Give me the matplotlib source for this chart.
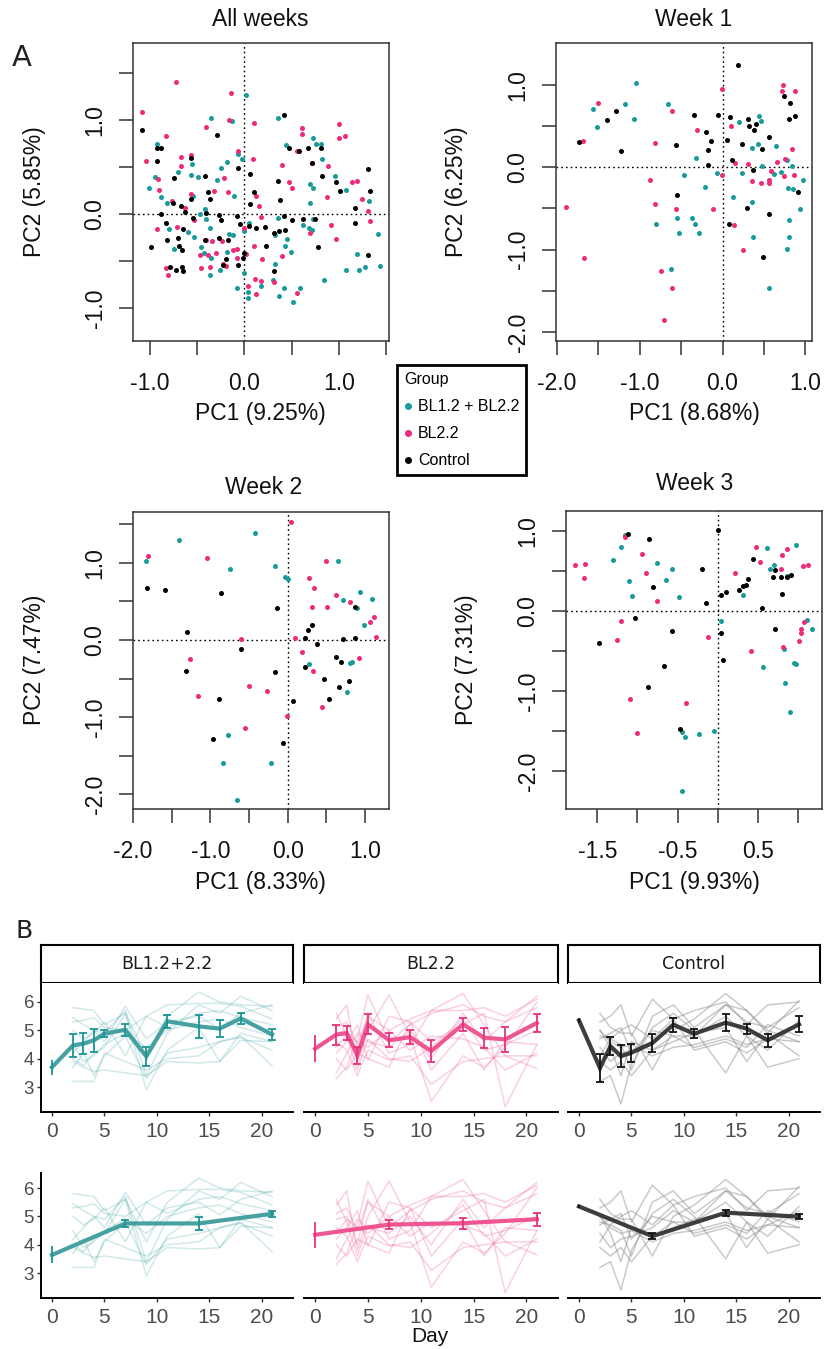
import matplotlib
matplotlib.use('Agg')
import matplotlib.pyplot as plt

plt.rcParams['font.family'] = ['Liberation Sans', 'DejaVu Sans']

# =====================================================================
# Data: PCA scores (panel A)
# =====================================================================
group_names = ['BL1.2 + BL2.2', 'BL2.2', 'Control']
dot_colors = ['#1A9B9B', '#EE2A7B', '#000000']

# All weeks
aw_teal_x = [0.02, -0.35, -0.13, 0.35, -0.93, 0.44, 0.73, 0.76, 0.81, 0.82, -0.07, -0.03, -0.56, -0.57,
             -0.49, -0.70, -0.25, -0.18, -0.29, -0.95, -1.01, 0.69, 0.73, 0.96, 1.08, -0.55, -0.11, 0.69,
             1.32, -0.88, -0.82, -0.42, -0.41, -0.47, 0.35, 0.62, 0.68, 0.71, 1.41, 0.73, -0.80, -0.60,
             -0.53, -0.37, -0.01, 0.05, -0.75, -0.46, -0.43, -0.35, -0.18, -0.12, 0.32, 0.45, 0.43, 0.49,
             0.32, 0.00, -0.26, -0.36, 0.30, 0.18, -0.08, 0.42, 0.59, 0.37, 0.51, 0.04, 0.04, 0.84, 1.08,
             1.21, 1.28, 1.43, 1.19, -0.16]
aw_teal_y = [1.27, 1.02, 0.99, 1.02, 0.75, 0.74, 0.81, 0.75, 0.75, 0.59, 0.64, 0.59, 0.53, 0.42,
             0.39, 0.45, 0.49, 0.55, 0.36, 0.39, 0.28, 0.32, 0.28, 0.41, 0.26, 0.19, 0.19, 0.12,
             0.14, 0.18, 0.12, 0.05, -0.05, 0.00, -0.04, -0.12, -0.15, -0.17, -0.21, -0.05, -0.16, -0.19,
             -0.24, -0.15, -0.18, -0.09, -0.37, -0.35, -0.41, -0.47, -0.40, -0.22, -0.22, -0.27, -0.34, -0.40,
             -0.53, -0.63, -0.60, -0.65, -0.70, -0.77, -0.79, -0.79, -0.79, -0.87, -0.94, -0.89, -0.83, -0.70, -0.59,
             -0.60, -0.56, -0.55, -0.42, -0.21]
aw_pink_x = [-0.73, -0.14, -1.08, -0.16, 0.10, -0.41, -0.83, 1.00, 1.00, 1.06, 0.61, 0.61, 0.56, -0.07,
             -1.04, -0.67, -0.57, -0.67, 0.09, 0.40, 0.71, 0.88, -0.92, -0.22, 0.47, 0.50, 1.14, 1.19,
             -0.90, -0.57, -0.32, -0.17, 0.12, 0.87, 1.24, -0.77, 0.15, -0.63, -0.53, 1.31, 0.17, 1.33,
             0.92, -0.93, -0.71, -0.01, 0.69, -0.41, -0.34, -0.24, 0.97, 0.10, -0.12, -0.08, -0.47, -0.39,
             -0.30, 0.02, 0.40, -0.08, 0.19, -0.83, -0.46, -0.36, -0.20, -0.81, -0.23, 0.11, 0.17, 0.31,
             0.04, 0.12, 0.56]
aw_pink_y = [1.40, 1.29, 1.09, 1.00, 0.97, 0.93, 0.83, 0.96, 0.81, 0.83, 0.92, 0.85, 0.67, 0.67,
             0.57, 0.61, 0.63, 0.51, 0.59, 0.52, 0.54, 0.51, 0.37, 0.38, 0.34, 0.28, 0.34, 0.35,
             0.26, 0.21, 0.25, 0.24, 0.19, 0.18, 0.16, 0.14, 0.09, 0.06, -0.06, 0.03, -0.03, -0.07,
             -0.12, -0.16, -0.14, -0.15, -0.20, -0.28, -0.29, -0.29, -0.27, -0.34, -0.38, -0.37, -0.44, -0.44,
             -0.41, -0.42, -0.45, -0.47, -0.48, -0.57, -0.57, -0.56, -0.55, -0.65, -0.53, -0.69, -0.71, -0.72,
             -0.77, -0.85, -0.84]
aw_ctrl_x = [-1.08, -0.29, 0.42, -0.07, 0.06, 0.47, 0.58, 0.67, 0.71, 0.81, 0.82, 0.97, 1.01, 1.31,
             1.33, -0.93, -0.88, -0.93, -0.57, -0.75, -0.42, -0.39, -0.36, -0.57, -0.67, -0.76, -0.88, -0.63,
             -0.55, -0.41, -0.27, -0.25, -0.08, -0.05, 0.05, 0.12, 0.22, 0.10, 0.06, 0.35, 0.38, 0.42,
             0.50, 0.62, 0.75, 1.17, 1.17, -0.83, -0.65, -0.70, -0.82, -0.99, -0.69, -0.66, -0.42, -0.27,
             -0.17, -0.20, -0.23, -0.07, 0.00, -0.02, 0.23, 0.31, 0.37, 0.43, 0.31, 0.78, 1.31, -0.79,
             -0.73, -0.66, -0.65]
aw_ctrl_y = [0.89, 0.84, 1.05, 0.49, 0.43, 0.70, 0.67, 0.70, 0.54, 0.70, 0.40, 0.34, 0.25, 0.48,
             0.25, 0.70, 0.70, 0.57, 0.60, 0.38, 0.41, 0.24, 0.16, 0.16, 0.09, 0.12, 0.00, 0.02,
             -0.04, 0.01, -0.01, -0.06, -0.02, -0.11, -0.13, -0.15, -0.14, 0.24, 0.11, 0.35, 0.15, -0.02,
             -0.06, -0.05, -0.05, 0.06, -0.10, -0.10, -0.16, -0.25, -0.28, -0.35, -0.34, -0.38, -0.28, -0.25,
             -0.28, -0.48, -0.54, -0.54, -0.41, -0.47, -0.34, -0.20, -0.18, -0.17, -0.61, -0.35, -0.44, -0.56,
             -0.59, -0.56, -0.61]

# Week 1
w1_teal_x = [-1.04, -1.56, -1.18, -0.66, -1.07, -1.51, 0.20, 0.44, 0.47, 0.35, 0.43, 0.64, -0.32, 0.78,
             0.48, 0.84, -0.07, -0.47, 0.24, 0.62, 0.70, 0.97, -0.21, 0.79, 0.85, 0.13, 0.35, 0.93,
             -0.55, -0.37, -0.80, -0.33, -0.53, -0.28, 0.80, 0.37, 0.80, 0.78, -0.62, 0.56]
w1_teal_y = [1.03, 0.71, 0.77, 0.77, 0.59, 0.49, 0.55, 0.62, 0.56, 0.24, 0.28, 0.26, 0.11, 0.09,
             0.02, 0.01, -0.07, -0.09, -0.07, -0.08, -0.06, -0.15, -0.24, -0.25, -0.26, -0.36, -0.42, -0.51,
             -0.62, -0.61, -0.69, -0.69, -0.80, -0.80, -0.64, -0.85, -0.85, -0.99, -1.23, -1.47]
w1_pink_x = [0.73, 0.72, 0.88, -0.01, -1.50, -0.61, -1.68, 0.10, -0.31, -0.81, 0.84, 0.76, 0.15, 0.31,
             0.66, -0.01, 0.59, 0.74, 0.86, 0.35, 0.47, 0.56, 0.56, -0.88, -0.82, -0.56, -0.12, -1.89,
             0.14, 0.25, -1.67, -0.74, -0.61, -0.71]
w1_pink_y = [1.00, 0.93, 0.93, 0.95, 0.78, 0.69, 0.32, 0.50, 0.45, 0.30, 0.22, 0.10, 0.05, 0.04,
             0.06, -0.09, -0.05, -0.11, -0.09, -0.17, -0.19, -0.19, -0.16, -0.16, -0.45, -0.51, -0.51, -0.48,
             -0.70, -1.00, -1.10, -1.26, -1.47, -1.86]
w1_ctrl_x = [0.19, 0.74, 0.82, 0.80, 0.87, -1.28, -1.40, -1.73, -1.22, -0.34, -0.06, 0.09, 0.31, 0.41,
             0.32, 0.38, -0.20, -0.14, 0.06, 0.23, 0.56, 0.48, -0.56, -0.17, -0.17, 0.11, 0.37, 0.91,
             -0.55, 0.29, 0.56, 0.08, 0.49]
w1_ctrl_y = [1.24, 0.87, 0.78, 0.59, 0.62, 0.68, 0.57, 0.31, 0.20, 0.63, 0.63, 0.61, 0.59, 0.53,
             0.50, 0.45, 0.43, 0.32, 0.33, 0.28, 0.37, 0.22, 0.27, 0.21, 0.03, 0.09, -0.03, -0.30,
             -0.34, -0.50, -0.57, -0.69, -1.09]

# Week 2
w2_teal_x = [-0.42, -1.41, -1.83, 0.65, -0.74, -0.17, -0.03, 0.00, 0.94, 1.09, 0.71, 0.90, 0.99, 0.28,
             0.80, 0.83, 0.77, -0.77, -0.84, -0.21, -0.66]
w2_teal_y = [1.39, 1.30, 1.03, 1.02, 0.92, 0.96, 0.82, 0.79, 0.62, 0.53, 0.52, 0.42, 0.19, -0.31,
             -0.30, -0.28, -0.67, -1.23, -1.60, -1.60, -2.07]
w2_pink_x = [0.04, -1.80, -1.04, 0.50, 0.27, 0.34, 0.63, 0.80, 0.32, 0.51, 1.12, 1.06, 1.14, 0.10,
             -0.61, 0.18, 0.92, -1.26, 0.33, -0.50, -0.27, -1.16, 0.44, -0.01, -0.55]
w2_pink_y = [1.53, 1.09, 1.06, 1.03, 0.81, 0.67, 0.58, 0.49, 0.43, 0.43, 0.30, 0.23, 0.04, 0.03,
             0.01, -0.15, -0.23, -0.25, -0.40, -0.59, -0.66, -0.73, -0.87, -0.98, -1.14]
w2_ctrl_x = [-1.82, -1.59, -0.86, -0.14, 0.87, 0.31, 0.26, 0.23, 0.72, 0.87, 0.38, -1.30, -0.61, 0.62,
             0.69, 0.23, -1.32, -0.17, 0.47, 0.79, 0.66, 0.53, -0.89, 0.07, -0.97, -0.06]
w2_ctrl_y = [0.67, 0.65, 0.61, 0.41, 0.43, 0.20, 0.13, 0.03, 0.01, 0.03, -0.05, 0.11, -0.12, -0.22,
             -0.28, -0.35, -0.40, -0.41, -0.50, -0.53, -0.61, -0.77, -0.77, -0.79, -1.28, -1.33]

# Week 3
w3_teal_x = [-1.15, -1.20, -1.31, -0.75, -0.57, -0.64, -1.10, -1.07, -0.48, 0.61, 0.98, 0.70, 0.65, 0.87,
             0.32, 0.04, 1.11, 1.18, 0.83, 0.56, 0.95, 0.97, 0.84, 0.90, -0.44, -0.41, -0.23, -0.05, -0.45]
w3_teal_y = [0.95, 0.80, 0.64, 0.60, 0.52, 0.39, 0.38, 0.19, 0.18, 0.79, 0.83, 0.57, 0.52, 0.44,
             0.20, -0.13, -0.11, -0.23, -0.47, -0.70, -0.65, -0.66, -0.90, -1.26, -1.51, -1.57, -1.54, -1.50, -2.25]
w3_pink_x = [-1.16, -1.78, -1.65, -1.66, -0.94, -0.89, -0.75, -1.21, -1.26, -1.09, -1.00, -0.40, -0.12, 0.22,
             0.48, 0.53, 0.80, 0.87, 0.79, 1.06, 1.13, 0.41, 0.81, 1.01, 1.04, 1.04, 1.08]
w3_pink_y = [0.92, 0.58, 0.59, 0.41, 0.71, 0.48, 0.13, -0.12, -0.36, -1.10, -1.52, -1.15, -0.32, 0.48,
             0.80, 0.61, 0.70, 0.78, 0.52, 0.56, 0.57, -0.50, -0.45, -0.38, -0.28, -0.23, -0.14]
w3_ctrl_x = [-1.12, -0.86, 0.01, -0.80, -0.20, -0.15, 0.04, 0.10, 0.27, 0.32, 0.35, 0.38, 0.44, 0.72,
             0.69, 0.79, 0.87, 0.91, 0.80, 0.55, 0.72, -1.03, -0.57, -1.48, 0.04, 0.07, -0.67, -0.87, -0.47]
w3_ctrl_y = [0.96, 0.90, 1.01, 0.30, 0.52, 0.10, 0.20, 0.24, 0.26, 0.31, 0.32, 0.40, 0.65, 0.51,
             0.42, 0.43, 0.43, 0.45, 0.21, 0.04, -0.22, -0.09, -0.25, -0.40, -0.27, -0.61, -0.69, -0.95, -1.47]

# =====================================================================
# Data: time courses (panel B)
# =====================================================================
facet_names = ['BL1.2+2.2', 'BL2.2', 'Control']
days = [0, 2, 3, 4, 5, 7, 9, 11, 14, 16, 18, 21]
ind_days = [2, 3, 4, 5, 7, 9, 11, 14, 16, 18, 21]
week_days = [0, 7, 14, 21]

teal_mean = [3.70, 4.47, 4.53, 4.65, 4.88, 5.02, 4.08, 5.32, 5.14, 5.06, 5.42, 4.86]
teal_err = [0.26, 0.40, 0.38, 0.40, 0.12, 0.22, 0.33, 0.22, 0.40, 0.31, 0.19, 0.19]
pink_mean = [4.35, 4.85, 4.90, 4.12, 5.21, 4.65, 4.76, 4.27, 5.21, 4.74, 4.68, 5.26]
pink_err = [0.47, 0.35, 0.25, 0.30, 0.35, 0.24, 0.25, 0.38, 0.23, 0.35, 0.45, 0.33]
ctrl_mean = [5.35, 3.67, 4.44, 4.09, 4.21, 4.55, 5.20, 4.88, 5.27, 5.06, 4.65, 5.21]
ctrl_err = [0.08, 0.50, 0.32, 0.39, 0.32, 0.31, 0.25, 0.16, 0.29, 0.18, 0.22, 0.28]

teal_week_mean = [3.64, 4.75, 4.75, 5.09]
teal_week_err = [0.30, 0.12, 0.24, 0.10]
pink_week_mean = [4.35, 4.71, 4.76, 4.90]
pink_week_err = [0.46, 0.16, 0.19, 0.23]
ctrl_week_mean = [5.35, 4.30, 5.13, 4.99]
ctrl_week_err = [0.05, 0.11, 0.10, 0.08]

teal_subjects = [
    [5.80, 5.75, 5.70, 5.20, 5.60, 4.10, 5.50, 6.35, 6.00, 5.90, 5.85],
    [5.45, 5.20, 5.00, 4.90, 5.70, 3.40, 4.90, 5.90, 5.60, 6.20, 5.70],
    [5.30, 5.35, 5.45, 5.10, 5.00, 5.50, 5.90, 5.95, 5.95, 5.85, 5.40],
    [4.00, 3.75, 4.20, 4.40, 5.60, 2.90, 4.30, 5.10, 3.90, 4.90, 4.60],
    [3.70, 4.20, 3.40, 4.10, 4.80, 3.30, 4.20, 4.40, 4.60, 4.75, 4.30],
    [3.20, 3.20, 3.20, 4.20, 3.90, 3.60, 4.00, 4.10, 4.60, 4.80, 3.75],
    [4.50, 3.90, 4.10, 4.50, 4.90, 4.40, 5.00, 5.30, 5.40, 5.10, 4.80],
    [3.90, 3.70, 3.55, 3.60, 3.50, 3.40, 3.90, 3.85, 3.90, 4.65, 4.60],
    [5.00, 4.70, 4.90, 5.30, 4.10, 5.50, 5.10, 5.60, 5.70, 5.45, 5.20],
    [4.20, 4.60, 5.00, 4.60, 5.85, 4.70, 5.30, 5.50, 5.05, 5.60, 5.90],
]
pink_subjects = [
    [3.30, 3.70, 4.70, 6.25, 4.60, 5.20, 5.60, 5.90, 5.50, 5.30, 6.20],
    [5.40, 5.90, 3.80, 5.00, 6.25, 4.80, 2.50, 4.10, 3.70, 4.40, 6.00],
    [4.90, 5.00, 4.00, 5.60, 4.20, 4.50, 5.70, 6.30, 5.20, 4.10, 3.65],
    [4.20, 4.60, 5.20, 3.95, 5.50, 5.30, 4.60, 5.20, 5.60, 2.30, 4.50],
    [4.60, 4.30, 3.40, 4.30, 3.95, 4.10, 3.10, 3.90, 4.00, 4.10, 4.10],
    [5.10, 5.30, 4.50, 5.50, 5.00, 5.40, 5.70, 5.70, 5.80, 5.50, 6.10],
    [4.00, 3.60, 4.20, 4.00, 3.70, 5.30, 3.60, 4.90, 3.60, 4.60, 4.50],
    [5.60, 4.80, 3.60, 4.70, 4.00, 3.90, 4.40, 5.40, 4.30, 4.50, 5.00],
    [4.40, 4.90, 4.60, 4.40, 5.00, 4.30, 4.80, 4.70, 4.40, 3.60, 4.20],
    [3.50, 4.20, 4.90, 4.60, 4.40, 5.00, 4.00, 5.60, 4.60, 5.30, 5.80],
]
ctrl_subjects = [
    [5.30, 5.50, 5.90, 4.80, 6.10, 5.40, 5.70, 6.00, 5.20, 5.90, 6.00],
    [4.10, 4.70, 4.50, 3.60, 5.50, 5.90, 5.10, 5.90, 5.70, 4.90, 6.05],
    [3.20, 3.40, 2.40, 3.80, 5.10, 5.60, 5.00, 3.50, 4.80, 4.30, 5.35],
    [5.60, 5.10, 4.90, 4.90, 3.60, 5.00, 5.40, 6.30, 5.70, 5.00, 4.60],
    [4.40, 3.90, 4.20, 4.30, 4.60, 5.20, 4.80, 5.50, 4.80, 3.70, 4.00],
    [5.00, 4.60, 4.40, 4.50, 4.10, 4.40, 4.50, 4.80, 4.50, 4.70, 4.60],
    [3.90, 3.60, 3.90, 3.40, 4.30, 4.60, 4.90, 5.10, 3.90, 4.90, 4.10],
    [4.80, 4.70, 5.00, 5.20, 4.70, 5.40, 4.30, 4.60, 4.20, 4.70, 5.20],
    [4.70, 4.90, 5.10, 4.20, 5.00, 4.80, 4.80, 5.90, 5.30, 5.10, 5.80],
    [5.00, 4.40, 3.40, 4.60, 4.30, 4.80, 4.40, 4.70, 4.40, 5.20, 4.80],
]

# =====================================================================
# Figure
# =====================================================================
W, H = 824, 1349
fig = plt.figure(figsize=(W / 100, H / 100), dpi=100)


def px_axes(l, t, r, b):
    return fig.add_axes([l / W, 1 - b / H, (r - l) / W, (b - t) / H])


def px_text(x, y, s, **kw):
    fig.text(x / W, 1 - y / H, s, ha='center', va='center', **kw)


def tick_labels(ticks, shown):
    return [f'{t:.1f}' if t in shown else '' for t in ticks]


def pca_panel(box, pts, xlim, ylim, xticks, xshown, yticks, yshown):
    ax = px_axes(*box)
    for (xs, ys), c in zip(pts, dot_colors):
        ax.scatter(xs, ys, s=13, color=c, linewidths=0, zorder=3)
    ax.axhline(0, color='black', lw=1, ls=(0, (1.2, 2.2)), zorder=2)
    ax.axvline(0, color='black', lw=1, ls=(0, (1.2, 2.2)), zorder=2)
    ax.set_xlim(xlim)
    ax.set_ylim(ylim)
    ax.set_xticks(xticks)
    ax.set_xticklabels(tick_labels(xticks, xshown))
    ax.set_yticks(yticks)
    ax.set_yticklabels(tick_labels(yticks, yshown), rotation=90, va='center')
    ax.tick_params(axis='both', direction='out', length=10, width=1.1, color='#333333',
                   labelsize=16.5, labelcolor='#111111')
    ax.tick_params(axis='x', pad=12)
    ax.tick_params(axis='y', pad=9)
    for sp in ax.spines.values():
        sp.set_color('#333333')
        sp.set_linewidth(1.1)
    return ax


pca_panel((133, 43, 389, 341),
          [(aw_teal_x, aw_teal_y), (aw_pink_x, aw_pink_y), (aw_ctrl_x, aw_ctrl_y)],
          (-1.18, 1.53), (-1.35, 1.82),
          [-1.0, -0.5, 0.0, 0.5, 1.0, 1.5], [-1.0, 0.0, 1.0],
          [-1.0, -0.5, 0.0, 0.5, 1.0, 1.5], [-1.0, 0.0, 1.0])
pca_panel((556, 43, 812, 341),
          [(w1_teal_x, w1_teal_y), (w1_pink_x, w1_pink_y), (w1_ctrl_x, w1_ctrl_y)],
          (-2.01, 1.08), (-2.11, 1.51),
          [-2.0, -1.5, -1.0, -0.5, 0.0, 0.5, 1.0], [-2.0, -1.0, 0.0, 1.0],
          [-2.0, -1.5, -1.0, -0.5, 0.0, 0.5, 1.0], [-2.0, -1.0, 0.0, 1.0])
pca_panel((133, 512, 389, 809),
          [(w2_teal_x, w2_teal_y), (w2_pink_x, w2_pink_y), (w2_ctrl_x, w2_ctrl_y)],
          (-2.0, 1.31), (-2.19, 1.66),
          [-2.0, -1.5, -1.0, -0.5, 0.0, 0.5, 1.0], [-2.0, -1.0, 0.0, 1.0],
          [-2.0, -1.5, -1.0, -0.5, 0.0, 0.5, 1.0, 1.5], [-2.0, -1.0, 0.0, 1.0])
pca_panel((566, 511, 822, 809),
          [(w3_teal_x, w3_teal_y), (w3_pink_x, w3_pink_y), (w3_ctrl_x, w3_ctrl_y)],
          (-1.89, 1.30), (-2.475, 1.25),
          [-1.5, -1.0, -0.5, 0.0, 0.5, 1.0], [-1.5, -0.5, 0.5],
          [-2.0, -1.5, -1.0, -0.5, 0.0, 0.5, 1.0], [-2.0, -1.0, 0.0, 1.0])

big = dict(fontsize=16.5, color='#111111')
px_text(260, 20, 'All weeks', **big)
px_text(694, 19, 'Week 1', **big)
px_text(264, 488, 'Week 2', **big)
px_text(695, 483, 'Week 3', **big)
px_text(260, 413, 'PC1 (9.25%)', **big)
px_text(694, 413, 'PC1 (8.68%)', **big)
px_text(260, 883, 'PC1 (8.33%)', **big)
px_text(694, 883, 'PC1 (9.93%)', **big)
px_text(34, 192, 'PC2 (5.85%)', rotation=90, **big)
px_text(457, 192, 'PC2 (6.25%)', rotation=90, **big)
px_text(34, 660, 'PC2 (7.47%)', rotation=90, **big)
px_text(467, 660, 'PC2 (7.31%)', rotation=90, **big)
px_text(22, 58, 'A', fontsize=21, family='DejaVu Sans', color='#222222')
px_text(24, 931, 'B', fontsize=18, family='DejaVu Sans', color='#222222')

# legend
handles = [plt.Line2D([], [], ls='none', marker='o', ms=4, mfc=c, mec=c) for c in dot_colors]
leg = fig.legend(handles, group_names, title='Group', loc='upper left',
                 bbox_to_anchor=(397 / W, 1 - 365 / H), fontsize=11.5, title_fontsize=11.5,
                 frameon=True, fancybox=False, edgecolor='black', framealpha=1,
                 handlelength=0.5, handletextpad=0.35, labelspacing=0.75, borderpad=0.45,
                 borderaxespad=0)
leg._legend_box.align = 'left'
leg.get_frame().set_linewidth(2)

# =====================================================================
# Panel B
# =====================================================================
facet_lr = [(41, 293), (304, 558), (568, 820)]
facet_means = [teal_mean, pink_mean, ctrl_mean]
facet_errs = [teal_err, pink_err, ctrl_err]
facet_week_means = [teal_week_mean, pink_week_mean, ctrl_week_mean]
facet_week_errs = [teal_week_err, pink_week_err, ctrl_week_err]
facet_subjects = [teal_subjects, pink_subjects, ctrl_subjects]
line_colors = ['#3E9C9C', '#EE4D8C', '#333333']
err_colors = ['#1A9494', '#E8307F', '#111111']
sub_colors = ['#2E9B9B', '#F06FA1', '#8A8A8A']
sub_alpha = [0.22, 0.32, 0.45]
narrow = ['Liberation Sans Narrow', 'Liberation Sans']

for i, (l, r) in enumerate(facet_lr):
    # strip
    sax = px_axes(l, 945, r, 983)
    sax.set_xticks([])
    sax.set_yticks([])
    for sp in sax.spines.values():
        sp.set_linewidth(1.5)
        sp.set_color('black')
    sax.text(0.5, 0.5, facet_names[i], ha='center', va='center', fontsize=12.5,
             family='DejaVu Sans', color='#1A1A1A', transform=sax.transAxes)

    for row, (top, bot, ylim, xm, ym, ye) in enumerate([
            (983, 1112, (2.12, 6.67), days, facet_means[i], facet_errs[i]),
            (1173, 1298, (2.12, 6.53), week_days, facet_week_means[i], facet_week_errs[i])]):
        ax = px_axes(l, top, r, bot)
        for subj in facet_subjects[i]:
            ax.plot(ind_days, subj, color=sub_colors[i], alpha=sub_alpha[i], lw=1.1, zorder=1)
        ax.plot(xm, ym, color=line_colors[i], lw=3, alpha=0.95, zorder=3,
                solid_joinstyle='miter')
        ax.errorbar(xm[1:], ym[1:], yerr=ye[1:], fmt='none', ecolor=err_colors[i],
                    elinewidth=1.3, capsize=3.2, capthick=1.3, zorder=4)
        ax.errorbar(xm[:1], ym[:1], yerr=ye[:1], fmt='none', ecolor=err_colors[i],
                    elinewidth=1.3, capsize=0, zorder=4)
        ax.set_xlim(-1.05, 23.0)
        ax.set_ylim(ylim)
        ax.set_xticks([0, 5, 10, 15, 20])
        for sp in ('top', 'right'):
            ax.spines[sp].set_visible(False)
        ax.spines['bottom'].set_linewidth(1.4)
        ax.spines['bottom'].set_color('black')
        if i == 0:
            ax.set_yticks([3, 4, 5, 6])
            ax.spines['left'].set_linewidth(1.4)
            ax.spines['left'].set_color('black')
        else:
            ax.set_yticks([])
            ax.spines['left'].set_visible(False)
        ax.tick_params(axis='both', length=3, width=1, color='#333333', labelcolor='#4D4D4D')
        ax.tick_params(axis='y', labelsize=13.5, pad=2)
        ax.tick_params(axis='x', labelsize=15, pad=4)
        for lab in ax.get_xticklabels():
            lab.set_family(narrow)

px_text(430, 1337, 'Day', fontsize=15, family=narrow, color='#111111')

fig.savefig('out.png', dpi=100)
